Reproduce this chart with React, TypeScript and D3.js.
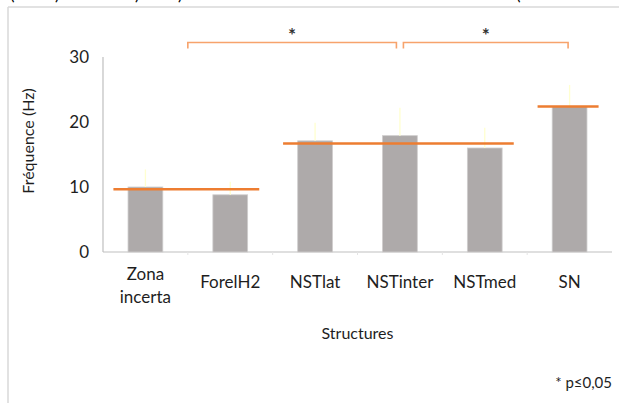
import React, { useEffect, useRef } from 'react';
import * as d3 from 'd3';

const categories = ['Zona incerta', 'ForelH2', 'NSTlat', 'NSTinter', 'NSTmed', 'SN'];
const means = [10.0, 8.8, 17.1, 17.9, 16.0, 22.4];
const errTops = [12.7, 10.8, 19.9, 22.2, 19.1, 25.7];
const yTicks = [0, 10, 20, 30];

// group averages drawn in orange: [first index, last index, value]
const groupMeans: [number, number, number][] = [
    [0, 1, 9.65],
    [2, 4, 16.7],
    [5, 5, 22.4],
];
// significance brackets: [from index, to index]
const brackets: [number, number][] = [
    [0.5, 3],
    [3, 5],
];

const FONT = 'Lato, "Open Sans", sans-serif';

export default function App() {
    const svgRef = useRef<SVGSVGElement | null>(null);

    useEffect(() => {
        if (!svgRef.current) return;
        const svg = d3.select(svgRef.current);
        svg.selectAll('*').remove();

        const width = 619;
        const height = 403;
        const margin = { top: 57, right: 7, bottom: 151, left: 103 };
        const innerWidth = width - margin.left - margin.right;
        const innerHeight = height - margin.top - margin.bottom;

        // frame of the pasted figure and the caption above it, clipped by the crop
        svg.append('line').attr('x1', 8).attr('x2', width).attr('y1', 7).attr('y2', 7)
            .attr('stroke', '#d9d9d9').attr('stroke-width', 1.5);
        svg.append('line').attr('x1', 8).attr('x2', 8).attr('y1', 7).attr('y2', height)
            .attr('stroke', '#d9d9d9').attr('stroke-width', 1.5);
        [[10, '('], [55, ')'], [135, ')'], [178, ')'], [516, '(']].forEach(([x, t]) => {
            svg.append('text').attr('x', x as number).attr('y', 0)
                .style('font-family', FONT).style('font-size', '17px').text(t as string);
        });

        const g = svg.append('g').attr('transform', `translate(${margin.left},${margin.top})`);

        const x = d3.scaleBand().domain(categories).range([0, innerWidth]).paddingInner(0.59).paddingOuter(0.295);
        const y = d3.scaleLinear().domain([0, 30]).range([innerHeight, 0]);
        const cx = (i: number) => (x(categories[i]) as number) + x.bandwidth() / 2;
        const step = x.step();

        // axes
        g.append('line').attr('x1', 0).attr('x2', 0).attr('y1', 0).attr('y2', innerHeight)
            .attr('stroke', '#bfbfbf').attr('stroke-width', 1.2);
        g.append('line').attr('x1', 0).attr('x2', innerWidth).attr('y1', innerHeight).attr('y2', innerHeight)
            .attr('stroke', '#bfbfbf').attr('stroke-width', 1.2);
        d3.range(1, categories.length).forEach(i => {
            g.append('line').attr('x1', i * step).attr('x2', i * step)
                .attr('y1', innerHeight).attr('y2', innerHeight + 3)
                .attr('stroke', '#e4e4e4').attr('stroke-width', 1);
        });

        g.selectAll('.ytick').data(yTicks).enter().append('text')
            .attr('x', -14).attr('y', d => y(d)).attr('dy', '0.36em')
            .attr('text-anchor', 'end')
            .style('font-family', FONT).style('font-size', '17px').attr('fill', '#1e1e1e')
            .text(d => d);

        // bars
        g.selectAll('.bar').data(means).enter().append('rect')
            .attr('x', (d, i) => x(categories[i]) as number)
            .attr('y', d => y(d))
            .attr('width', x.bandwidth())
            .attr('height', d => innerHeight - y(d))
            .attr('fill', '#aeaaaa')
            .attr('stroke', '#cfcdcd').attr('stroke-width', 0.8);

        // error bars
        g.selectAll('.err').data(errTops).enter().append('line')
            .attr('x1', (d, i) => cx(i)).attr('x2', (d, i) => cx(i))
            .attr('y1', (d, i) => y(means[i])).attr('y2', d => y(d))
            .attr('stroke', '#ffffd0').attr('stroke-width', 1.3);

        // group mean lines
        groupMeans.forEach(([a, b, v]) => {
            g.append('line')
                .attr('x1', cx(a) - 32).attr('x2', cx(b) + 29)
                .attr('y1', y(v)).attr('y2', y(v))
                .attr('stroke', '#ed7d31').attr('stroke-width', 2.5);
        });

        // significance brackets
        brackets.forEach(([a, b], k) => {
            const x0 = x.step() * (a + 0.295) + x.bandwidth() / 2 + (k === 1 ? 3.5 : 0);
            const x1 = x.step() * (b + 0.295) + x.bandwidth() / 2 - (k === 0 ? 3.5 : 1.5);
            const yb = -14.5;
            g.append('path')
                .attr('d', `M${x0},${yb + 6}V${yb}H${x1}V${yb + 6}`)
                .attr('fill', 'none').attr('stroke', '#f7a36c').attr('stroke-width', 1.6);
            g.append('text').attr('x', (x0 + x1) / 2).attr('y', -26).attr('dy', '0.6em')
                .attr('text-anchor', 'middle')
                .style('font-family', FONT).style('font-size', '19px').style('font-weight', 'bold')
                .attr('fill', '#333')
                .text('*');
        });

        // category labels
        categories.forEach((c, i) => {
            const words = c.split(' ');
            const t = g.append('text').attr('text-anchor', 'middle')
                .style('font-family', FONT).style('font-size', '17px').attr('fill', '#1e1e1e');
            if (words.length > 1) {
                words.forEach((w, j) => {
                    t.append('tspan').attr('x', cx(i)).attr('y', innerHeight + 22 + j * 22.5 + 6).text(w);
                });
            } else {
                t.attr('x', cx(i)).attr('y', innerHeight + 30 + 6).text(c);
            }
        });

        // axis titles
        g.append('text').attr('x', innerWidth / 2).attr('y', innerHeight + 87)
            .attr('text-anchor', 'middle')
            .style('font-family', FONT).style('font-size', '16px').attr('fill', '#1e1e1e')
            .text('Structures');
        svg.append('text')
            .attr('transform', `translate(34,141) rotate(-90)`)
            .attr('text-anchor', 'middle')
            .style('font-family', FONT).style('font-size', '16px').attr('fill', '#1e1e1e')
            .text('Fréquence (Hz)');

        svg.append('text').attr('x', 612).attr('y', 388)
            .attr('text-anchor', 'end')
            .style('font-family', FONT).style('font-size', '15px').attr('fill', '#1e1e1e')
            .text('* p≤0,05');
    }, []);

    return (
        <svg ref={svgRef} width={619} height={403}
            style={{ position: 'absolute', left: 0, top: 0, background: '#fff' }} />
    );
}
